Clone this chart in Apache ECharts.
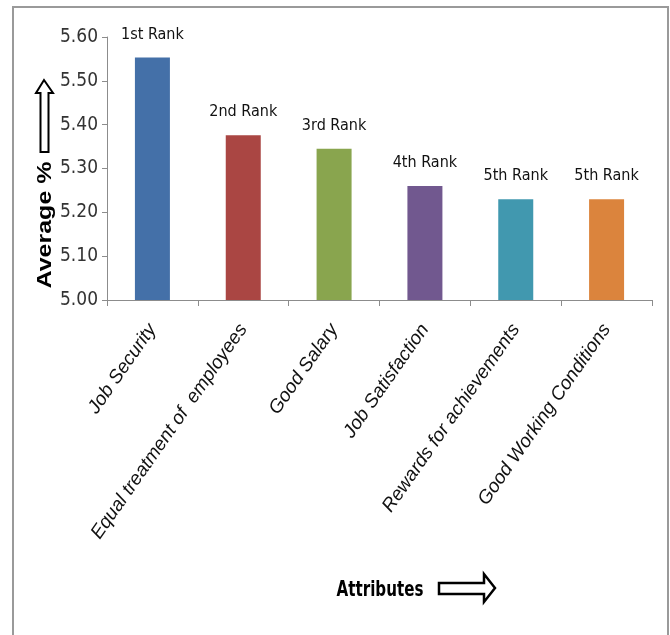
<!DOCTYPE html>
<html>
<head>
<meta charset="utf-8">
<script src="https://cdn.jsdelivr.net/npm/echarts@6/dist/echarts.min.js"></script>
<style>html,body{margin:0;padding:0;background:#fff;}#c{width:670px;height:635px;}</style>
</head>
<body>
<div id="c"></div>
<script>
const categories = ['Job Security', 'Equal treatment of  employees', 'Good Salary', 'Job Satisfaction', 'Rewards for achievements', 'Good Working Conditions'];
const values = [5.553, 5.376, 5.345, 5.26, 5.23, 5.23];
const rankLabels = ['1st Rank', '2nd Rank', '3rd Rank', '4th Rank', '5th Rank', '5th Rank'];
const barColors = ['#4470A8', '#AA4643', '#89A54E', '#71588F', '#4198AF', '#DB843D'];
const yTicks = { min: 5.0, max: 5.6, interval: 0.1 };

const chart = echarts.init(document.getElementById('c'), null, { renderer: 'canvas' });
const narrow = '"DejaVu Sans Condensed", "Liberation Sans Narrow", sans-serif';

chart.setOption({
  animation: false,
  backgroundColor: '#fff',
  grid: { left: 107, right: 18, top: 37, bottom: 335, containLabel: false },
  xAxis: {
    type: 'category',
    data: categories,
    axisLine: { lineStyle: { color: '#8c8c8c', width: 1 } },
    axisTick: { show: true, alignWithLabel: false, length: 6, lineStyle: { color: '#8c8c8c' } },
    axisLabel: {
      rotate: 55, interval: 0, margin: 26,
      fontFamily: '"Liberation Sans", Arial, sans-serif', fontStyle: 'italic', fontSize: 19, color: '#111'
    }
  },
  yAxis: {
    type: 'value',
    min: yTicks.min, max: yTicks.max, interval: yTicks.interval,
    axisLine: { show: true, lineStyle: { color: '#8c8c8c', width: 1 } },
    axisTick: { show: true, inside: false, length: 5, lineStyle: { color: '#8c8c8c' } },
    splitLine: { show: false },
    axisLabel: {
      formatter: v => v.toFixed(2), margin: 9,
      fontFamily: narrow, fontSize: 19, color: '#333'
    }
  },
  series: [{
    type: 'bar',
    barWidth: 35,
    data: values.map((v, i) => ({ value: v, itemStyle: { color: barColors[i] } })),
    label: {
      show: true, position: 'top', distance: 15,
      formatter: p => rankLabels[p.dataIndex],
      fontFamily: narrow, fontSize: 16, color: '#111'
    }
  }],
  graphic: [
    { type: 'rect', shape: { x: 13, y: 7, width: 655, height: 630 }, style: { fill: 'none', stroke: '#9a9a9a', lineWidth: 2 }, silent: true },
    { type: 'text', x: 45, y: 225, rotation: Math.PI / 2, scaleY: 0.8,
      style: { text: 'Average %', font: 'bold 25px "Liberation Sans", Arial, sans-serif', fill: '#000', align: 'center', verticalAlign: 'middle' } },
    { type: 'polygon', shape: { points: [[44, 80], [53, 93], [48.5, 93], [48.5, 152], [40.5, 152], [40.5, 93], [36, 93]] },
      style: { fill: '#fff', stroke: '#000', lineWidth: 2 } },
    { type: 'text', x: 380, y: 591, scaleX: 0.8,
      style: { text: 'Attributes', font: 'bold 21px "DejaVu Sans Condensed", sans-serif', fill: '#000', align: 'center', verticalAlign: 'middle' } },
    { type: 'polygon', shape: { points: [[495, 588], [484, 574], [484, 583], [439, 583], [439, 594], [484, 594], [484, 602]] },
      style: { fill: '#fff', stroke: '#000', lineWidth: 2.5 } }
  ]
});
</script>
</body>
</html>
